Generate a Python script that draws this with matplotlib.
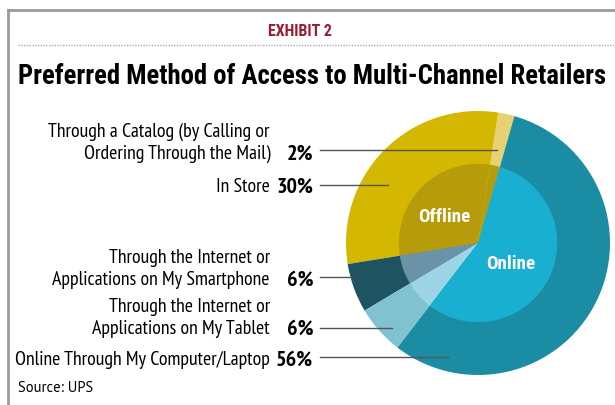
import matplotlib
matplotlib.use("Agg")
import matplotlib.pyplot as plt
from matplotlib.lines import Line2D

# Data
labels = [
    "Through a Catalog (by Calling or\nOrdering Through the Mail)",
    "In Store",
    "Through the Internet or\nApplications on My Smartphone",
    "Through the Internet or\nApplications on My Tablet",
    "Online Through My Computer/Laptop",
]
shares = [2, 30, 6, 6, 56]
pct_text = ["2%", "30%", "6%", "6%", "56%"]
groups = ["Offline", "Online"]

outer_colors = ["#e8d172", "#d3b700", "#1e5462", "#80c2d0", "#1a8ca3"]
inner_colors = ["#b69b0a", "#b69b0a", "#6a93a7", "#9dd5e6", "#18afd1"]

W, H = 615, 405
fig = plt.figure(figsize=(W / 100, H / 100), dpi=100)
fig.patch.set_facecolor("white")
renderer = fig.canvas.get_renderer()

narrow = "Roboto Condensed"
body = "PT Sans Narrow"


def px(x, y):
    return x / W, 1 - y / H


def fit(t, width):
    # scale the font so the text spans the given pixel width
    w = t.get_window_extent(renderer).width
    t.set_fontsize(t.get_fontsize() * width / w)
    return t.get_fontsize()


# frame
fig.add_artist(Line2D([8 / W, 8 / W], [0, 1 - 10 / H], color="#9a9a9a", lw=2))
fig.add_artist(Line2D([8 / W, 1], [1 - 10 / H, 1 - 10 / H], color="#9a9a9a", lw=2))
fig.add_artist(Line2D([18 / W, 1], [1 - 45 / H, 1 - 45 / H], color="#aaaaaa",
                      lw=1, ls=(0, (1, 1))))

t = fig.text(*px(300, 32), "EXHIBIT 2", color="#9b1b30", fontsize=11,
             fontweight="bold", family=narrow, ha="center", va="center")
fit(t, 64)
t = fig.text(*px(18, 77), "Preferred Method of Access to Multi-Channel Retailers",
             fontsize=17, fontweight="bold", family=narrow, ha="left", va="center")
fit(t, 589)

# pie
cx, cy, r = 478, 243, 132
ax = fig.add_axes([(cx - r) / W, (H - cy - r) / H, 2 * r / W, 2 * r / H])
ax.pie(shares, colors=outer_colors, radius=1, startangle=74, counterclock=True,
       wedgeprops=dict(linewidth=0))
ax.pie(shares, colors=inner_colors, radius=0.6, startangle=74, counterclock=True,
       wedgeprops=dict(linewidth=0))
ax.set_xlim(-1, 1)
ax.set_ylim(-1, 1)
ax.set_aspect("equal")
ax.axis("off")

t = fig.text(*px(444, 217), groups[0], color="white", fontsize=11,
             fontweight="bold", family=narrow, ha="center", va="center")
fit(t, 52)
t = fig.text(*px(511, 264), groups[1], color="white", fontsize=11,
             fontweight="bold", family=narrow, ha="center", va="center")
fit(t, 49)

# size of the body text, from the widest label
probe = fig.text(0, 0, labels[4], fontsize=11, family=body)
body_size = fit(probe, 255)
probe.remove()
probe = fig.text(0, 0, pct_text[4], fontsize=11, fontweight="bold", family=body)
pct_size = fit(probe, 37)
probe.remove()

# labels and leader lines
label_y = [143, 187, 269, 318, 360]
line_y = [150, 185, 277, 328, 357]
line_end = [497, 388, 352, 392, 448]
for lab, pct, ly, yy, xe in zip(labels, pct_text, label_y, line_y, line_end):
    fig.text(*px(270, ly), lab, fontsize=body_size, family=body, ha="right",
             va="center", ma="right", linespacing=1.25)
    py = ly + 11 if "\n" in lab else ly
    fig.text(*px(313, py), pct, fontsize=pct_size, fontweight="bold",
             family=body, ha="right", va="center")
    fig.add_artist(Line2D([320 / W, xe / W], [1 - yy / H, 1 - yy / H],
                          color="#555555", lw=1))

fig.text(*px(18, 388), "Source: UPS", fontsize=10.5, family="PT Sans",
         ha="left", va="center")

fig.savefig("out.png", dpi=100)
